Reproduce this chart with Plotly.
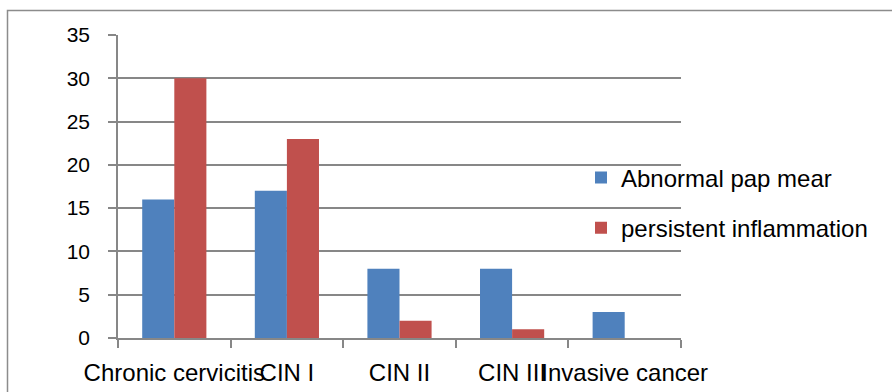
import plotly.graph_objects as go

# Cases per diagnosis group
categories = ["Chronic cervicitis", "CIN I", "CIN II", "CIN III", "Invasive cancer"]
abnormal_pap = [16, 17, 8, 8, 3]
persistent_inflammation = [30, 23, 2, 1, 0]
y_ticks = [0, 5, 10, 15, 20, 25, 30, 35]

W, H = 892, 392
ML, MR, MT, MB = 118, 211, 35, 54
PW, PH = W - ML - MR, H - MT - MB

family = "Liberation Sans, Arial, sans-serif"
font = dict(family=family, size=24, color="#000000")
yfont = dict(family=family, size=21, color="#000000")
grid = "#878787"

fig = go.Figure()
fig.add_trace(go.Bar(
    x=categories, y=abnormal_pap, name="Abnormal pap mear",
    marker=dict(color="#4F81BD", line=dict(width=0)), legendgroup="a",
))
fig.add_trace(go.Bar(
    x=categories, y=persistent_inflammation, name="persistent inflammation",
    marker=dict(color="#C0504D", line=dict(width=0)), legendgroup="b",
))

# outer chart frame (runs off the right and bottom edges)
fig.add_shape(
    type="rect", xref="paper", yref="paper",
    x0=(7.5 - ML) / PW, x1=(W + 20 - ML) / PW,
    y0=-(MB + 20) / PH, y1=(H - MB - 10.5) / PH,
    line=dict(color="#8c8c8c", width=1.5), fillcolor="rgba(0,0,0,0)", layer="below",
)

fig.update_layout(
    width=W, height=H,
    margin=dict(l=ML, r=MR, t=MT, b=MB, pad=0, autoexpand=False),
    paper_bgcolor="white", plot_bgcolor="white",
    font=font,
    barmode="group", bargap=0.43, bargroupgap=0,
    showlegend=True,
    legend=dict(
        x=(581 - ML) / PW, xanchor="left",
        y=(H - MB - 203) / PH, yanchor="middle",
        traceorder="grouped", tracegroupgap=16,
        font=font, bgcolor="rgba(0,0,0,0)",
    ),
    xaxis=dict(
        type="category", tickson="boundaries", tickangle=0, automargin=False,
        ticks="outside", ticklen=8, tickcolor=grid, tickwidth=1.5,
        showline=True, linecolor=grid, linewidth=1.5,
        showgrid=False, tickfont=font, ticklabelstandoff=12,
    ),
    yaxis=dict(
        range=[0, 35], tickvals=y_ticks, automargin=False,
        ticks="outside", ticklen=8, tickcolor=grid, tickwidth=1.5,
        showline=True, linecolor=grid, linewidth=1.5,
        showgrid=True, gridcolor=grid, gridwidth=1.5,
        zeroline=False, tickfont=yfont, ticklabelstandoff=14,
    ),
)

fig.write_html("out.html")
